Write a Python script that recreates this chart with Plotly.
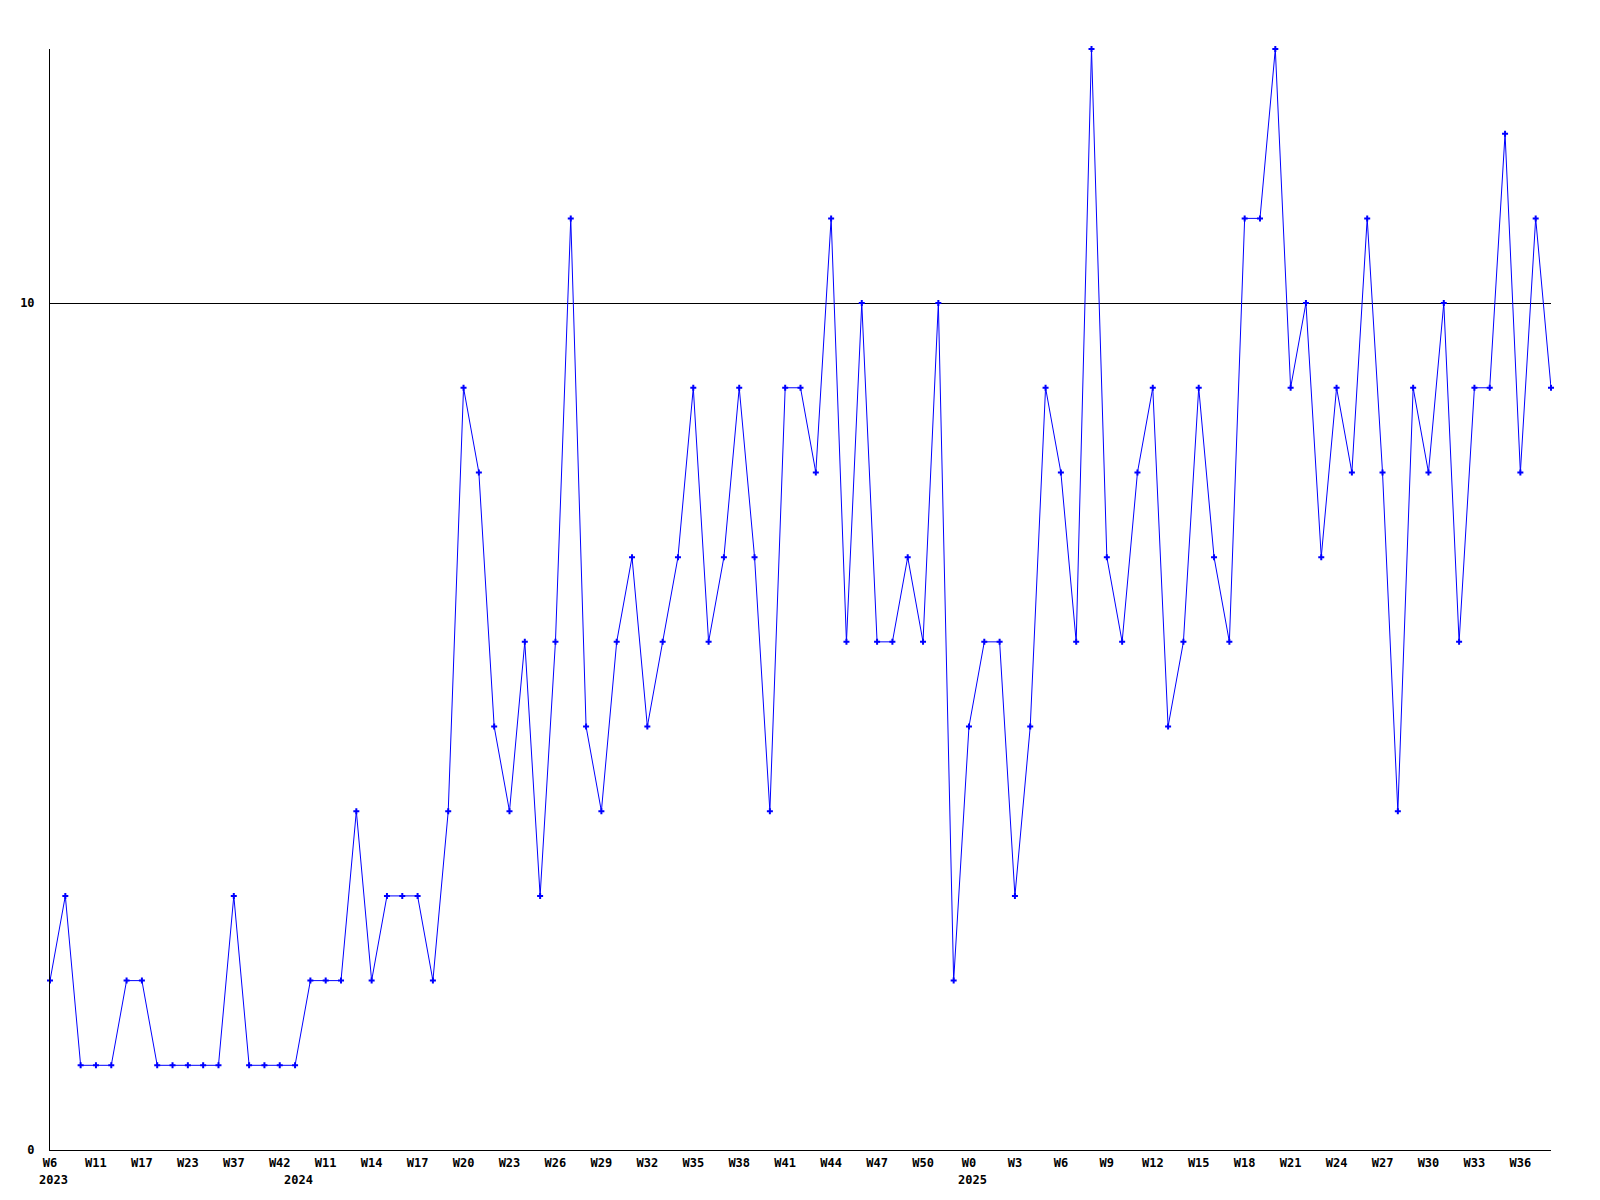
import plotly.graph_objects as go

# Weekly values (one per reported week, in order)
values = [2, 3, 1, 1, 1, 2, 2, 1, 1, 1, 1, 1, 3, 1, 1, 1, 1, 2, 2, 2,
          4, 2, 3, 3, 3, 2, 4, 9, 8, 5, 4, 6, 3, 6, 11, 5, 4, 6, 7, 5,
          6, 7, 9, 6, 7, 9, 7, 4, 9, 9, 8, 11, 6, 10, 6, 6, 7, 6, 10, 2,
          5, 6, 6, 3, 5, 9, 8, 6, 13, 7, 6, 8, 9, 5, 6, 9, 7, 6, 11, 11,
          13, 9, 10, 7, 9, 8, 11, 8, 4, 9, 8, 10, 6, 9, 9, 12, 8, 11, 9]

# Week tick labels shown (every third point)
tick_positions = list(range(0, 97, 3))
tick_labels = ["W6", "W11", "W17", "W23", "W37", "W42", "W11", "W14", "W17",
               "W20", "W23", "W26", "W29", "W32", "W35", "W38", "W41", "W44",
               "W47", "W50", "W0", "W3", "W6", "W9", "W12", "W15", "W18",
               "W21", "W24", "W27", "W30", "W33", "W36"]

# Year labels at the first point of each year
year_positions = [0, 16, 60]
year_labels = ["2023", "2024", "2025"]

x = list(range(len(values)))
FONT = "DejaVu Sans Mono"

fig = go.Figure()
fig.add_trace(go.Scatter(
    x=x, y=values, mode="lines+markers",
    line=dict(color="#0000ff", width=1),
    marker=dict(symbol="cross", size=5, color="#0000ff"),
    hoverinfo="x+y", cliponaxis=False,
))

for p, lab in zip(year_positions, year_labels):
    fig.add_annotation(x=p, y=0, xref="x", yref="paper", text=lab,
                       showarrow=False, xanchor="left", yanchor="top",
                       xshift=-13, yshift=-21,
                       font=dict(family=FONT, size=12, color="black", weight="bold"))

fig.update_layout(
    width=1600, height=1200,
    margin=dict(l=42, r=57, t=41, b=58),
    paper_bgcolor="white", plot_bgcolor="white",
    showlegend=False,
    xaxis=dict(range=[0, len(values) - 1], tickmode="array",
               tickvals=tick_positions, ticktext=tick_labels,
               showgrid=False, zeroline=False, showline=True,
               linecolor="black", linewidth=1, ticks="", automargin=False,
               tickfont=dict(family=FONT, size=12, color="black", weight="bold"),
               ticklabelstandoff=2),
    yaxis=dict(range=[0, 13], tickmode="array", tickvals=[0, 10],
               ticktext=["0", "10"], showgrid=True, gridcolor="black",
               gridwidth=1, zeroline=False, showline=True,
               linecolor="black", linewidth=1, ticks="", automargin=False,
               tickfont=dict(family=FONT, size=12, color="black", weight="bold"),
               ticklabelstandoff=12),
)

fig.write_html("out.html")
